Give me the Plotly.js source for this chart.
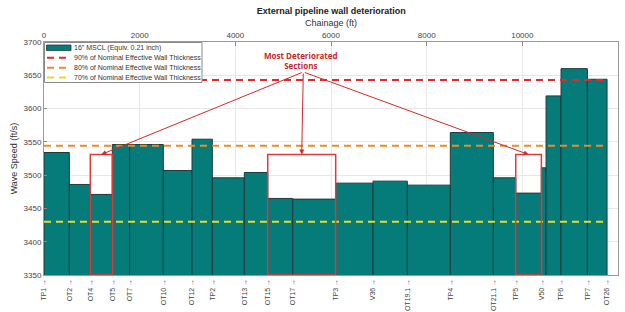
<!DOCTYPE html>
<html>
<head>
<meta charset="utf-8">
<script src="https://cdn.plot.ly/plotly-3.0.1.min.js"></script>
<style>html,body{margin:0;padding:0;background:#fff;}#chart{width:625px;height:312px;}</style>
</head>
<body>
<div id="chart"></div>
<script>
// Bar section edges along the pipeline (ft) and wave speed of each section (ft/s)
const edgeChainage = [0, 530, 968, 1428, 1791, 2495, 3094, 3519, 4188, 4677, 5200, 6098, 6879, 7596, 8495, 9394, 9862, 10398, 10496, 10809, 11360, 11771];
const waveSpeed = [3534, 3486, 3471, 3546, 3546, 3507, 3554, 3496, 3504, 3465, 3464, 3488, 3491, 3485, 3564, 3496, 3473, 3511, 3619, 3660, 3644];

// Station labels and their chainage
const stationChainage = [0, 530, 968, 1428, 1791, 2495, 3094, 3519, 4188, 4677, 5200, 6098, 6879, 7596, 8495, 9394, 9862, 10398, 10809, 11360, 11771];
const stationLabels = ["TP1", "OT2", "OT4", "OT5", "OT7", "OT10", "OT12", "TP2", "OT13", "OT15", "OT17", "TP3", "V36", "OT19.1", "TP4", "OT21.1", "TP5", "V50", "TP6", "TP7", "OT26"];

// Top axis ticks
const topTicks = [0, 2000, 4000, 6000, 8000, 10000, 12000];

// Series names and threshold wave speeds (ft/s)
const barName = '16" MSCL (Equiv. 0.21 inch)';
const thresholdNames = ["90% of Nominal Effective Wall Thickness", "80% of Nominal Effective Wall Thickness", "70% of Nominal Effective Wall Thickness"];
const thresholdValues = [3643, 3544, 3430];
const thresholdColors = ["#e8262a", "#ee8a2a", "#e8dc20"];

// Most deteriorated sections (start/end station index) and highlight box top
const deterioratedSections = [[2, 3], [9, 11], [16, 17]];
const boxTop = 3531;
const calloutPoint = [5421, 3655];
const calloutText = [5380, 3672];

const barColor = '#067c7a';
const centers = [], widths = [];
for (let i = 0; i < waveSpeed.length; i++) {
  centers.push((edgeChainage[i] + edgeChainage[i + 1]) / 2);
  widths.push(edgeChainage[i + 1] - edgeChainage[i]);
}
const pipeEnd = edgeChainage[edgeChainage.length - 1];

const traces = [{
  type: 'bar', x: centers, y: waveSpeed, width: widths,
  name: barName, showlegend: false,
  marker: {color: barColor, line: {color: '#1d3b3b', width: 1}},
  hoverinfo: 'x+y'
}];
thresholdValues.forEach((v, i) => {
  traces.push({
    type: 'scatter', mode: 'lines', x: [0, pipeEnd], y: [v, v],
    name: thresholdNames[i], showlegend: false,
    line: {color: thresholdColors[i], width: 2, dash: '7px,5px'}
  });
});
// invisible trace to activate top axis
traces.push({type: 'scatter', mode: 'markers', x: [0, 12000], y: [3350, 3350], xaxis: 'x2', showlegend: false, marker: {opacity: 0}, hoverinfo: 'skip'});

// plot area in pixels (for the hand-drawn legend box)
const PL = 44, PR = 618, PT = 42, PB = 275;
const px = v => (v - PL) / (PR - PL);
const py = v => (PB - v) / (PB - PT);

const shapes = deterioratedSections.map(s => ({
  type: 'rect', xref: 'x', yref: 'y',
  x0: stationChainage[s[0]], x1: stationChainage[s[1]], y0: 3350, y1: boxTop,
  line: {color: '#e03a3a', width: 1.5}, fillcolor: 'rgba(0,0,0,0)'
}));

const annotations = deterioratedSections.map(s => ({
  xref: 'x', yref: 'y', axref: 'x', ayref: 'y',
  x: (stationChainage[s[0]] + stationChainage[s[1]]) / 2, y: boxTop,
  ax: calloutPoint[0], ay: calloutPoint[1],
  text: '', showarrow: true, arrowhead: 2, arrowsize: 1, arrowwidth: 1, arrowcolor: '#d42a2e'
}));
annotations.push({
  xref: 'x', yref: 'y', x: calloutText[0], y: calloutText[1],
  text: '<b>Most Deteriorated<br>Sections</b>', showarrow: false,
  font: {family: 'Open Sans, sans-serif', size: 8, color: '#c8282c'}, align: 'center'
});

// legend (drawn as shapes + text so the rows are as compact as the reference)
const legendNames = [barName].concat(thresholdNames);
const rowY = [47.8, 57.8, 67.7, 77.6];
shapes.push({type: 'rect', xref: 'paper', yref: 'paper', x0: px(44.5), x1: px(202), y0: py(42.5), y1: py(82.5),
  line: {color: '#8a8a8a', width: 1}, fillcolor: '#fff', layer: 'above'});
shapes.push({type: 'rect', xref: 'paper', yref: 'paper', x0: px(46.5), x1: px(71), y0: py(rowY[0] - 2.8), y1: py(rowY[0] + 2.8),
  line: {color: '#1d3b3b', width: 0.8}, fillcolor: barColor, layer: 'above'});
thresholdColors.forEach((c, i) => {
  shapes.push({type: 'line', xref: 'paper', yref: 'paper', x0: px(47), x1: px(71), y0: py(rowY[i + 1]), y1: py(rowY[i + 1]),
    line: {color: c, width: 2, dash: '7px,5px'}, layer: 'above'});
});
legendNames.forEach((n, i) => {
  annotations.push({xref: 'paper', yref: 'paper', x: px(72), y: py(rowY[i]), xanchor: 'left', yanchor: 'middle',
    text: n, showarrow: false, font: {family: 'Liberation Sans, Arial, sans-serif', size: 7, color: '#333'}});
});

const axisFont = {family: 'Liberation Sans, Arial, sans-serif', size: 8, color: '#444'};

const layout = {
  width: 625, height: 312,
  margin: {l: PL, r: 625 - PR, t: PT, b: 312 - PB},
  paper_bgcolor: '#fff', plot_bgcolor: '#fff',
  font: axisFont,
  title: {text: '<b>External pipeline wall deterioration</b>', x: 0.53, xanchor: 'center', y: 0.975, yanchor: 'top',
    font: {family: 'Liberation Sans, Arial, sans-serif', size: 9, color: '#222'}},
  bargap: 0,
  showlegend: false,
  xaxis: {
    range: [0, 12000], tickmode: 'array', tickvals: stationChainage,
    ticktext: stationLabels.map(l => l + ' \u2192'), tickangle: -90,
    showgrid: false, zeroline: false, showline: true, linecolor: '#999', ticks: '',
    tickfont: {family: 'Liberation Sans, Arial, sans-serif', size: 7, color: '#444'}
  },
  xaxis2: {
    overlaying: 'x', side: 'top', range: [0, 12000], tickmode: 'array', tickvals: topTicks,
    ticktext: topTicks.map(String),
    showgrid: true, gridcolor: '#e8e8e8', zeroline: false, showline: true, linecolor: '#999',
    ticks: 'inside', ticklen: 4, tickcolor: '#888', tickfont: axisFont,
    title: {text: 'Chainage (ft)', font: {family: 'Liberation Sans, Arial, sans-serif', size: 9, color: '#333'}, standoff: 2}
  },
  yaxis: {
    range: [3350, 3700], dtick: 50, tick0: 3350,
    showgrid: true, gridcolor: '#e8e8e8', zeroline: false, showline: true, linecolor: '#999', mirror: true,
    ticks: 'inside', ticklen: 3, tickcolor: '#888', tickfont: axisFont,
    title: {text: 'Wave Speed (ft/s)', font: {family: 'Liberation Sans, Arial, sans-serif', size: 9, color: '#333'}, standoff: 4}
  },
  shapes: shapes,
  annotations: annotations
};

Plotly.newPlot('chart', traces, layout, {displayModeBar: false, staticPlot: true});
</script>
</body>
</html>
